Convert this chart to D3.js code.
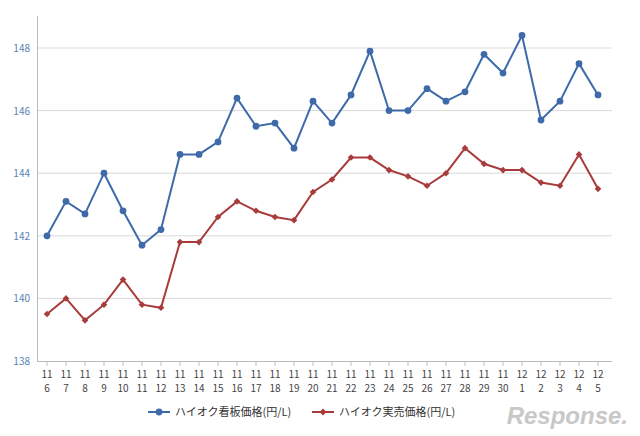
<!DOCTYPE html>
<html><head><meta charset="utf-8">
<script src="https://cdn.jsdelivr.net/npm/d3@7"></script>
<style>body{margin:0;background:#fff;font-family:"Noto Sans CJK JP","Noto Sans",sans-serif}</style>
</head><body>
<svg id="chart" width="640" height="436"></svg>
<script>
var months = ["11","11","11","11","11","11","11","11","11","11","11","11","11","11","11","11","11","11","11","11","11","11","11","11","11","12","12","12","12","12"];
var days = ["6","7","8","9","10","11","12","13","14","15","16","17","18","19","20","21","22","23","24","25","26","27","28","29","30","1","2","3","4","5"];
var signPrice = [142.0,143.1,142.7,144.0,142.8,141.7,142.2,144.6,144.6,145.0,146.4,145.5,145.6,144.8,146.3,145.6,146.5,147.9,146.0,146.0,146.7,146.3,146.6,147.8,147.2,148.4,145.7,146.3,147.5,146.5];
var realPrice = [139.5,140.0,139.3,139.8,140.6,139.8,139.7,141.8,141.8,142.6,143.1,142.8,142.6,142.5,143.4,143.8,144.5,144.5,144.1,143.9,143.6,144.0,144.8,144.3,144.1,144.1,143.7,143.6,144.6,143.5];
var yTicks = [138,140,142,144,146,148];

var svg = d3.select("#chart");
var idx = d3.range(days.length);
var x = d3.scalePoint().domain(idx).range([47, 598]);
var y = d3.scaleLinear().domain([138, 148]).range([361, 48]);

// gridlines
svg.append("g").selectAll("line").data(yTicks.slice(1)).enter().append("line")
  .attr("x1", 37).attr("x2", 612)
  .attr("y1", function(d) { return y(d); }).attr("y2", function(d) { return y(d); })
  .attr("stroke", "#d9d9d9");

// axes lines
svg.append("line").attr("x1", 37.5).attr("x2", 37.5).attr("y1", 16).attr("y2", 361).attr("stroke", "#bbb");
svg.append("line").attr("x1", 37).attr("x2", 612).attr("y1", 361.5).attr("y2", 361.5).attr("stroke", "#bbb");

svg.append("g").selectAll("text").data(yTicks).enter().append("text")
  .attr("x", 30).attr("y", function(d) { return y(d) + 4; })
  .attr("text-anchor", "end").attr("font-size", 10).attr("fill", "#5a7fb5")
  .text(function(d) { return d; });

var xl = svg.append("g").selectAll("g").data(idx).enter().append("g")
  .attr("transform", function(i) { return "translate(" + x(i) + ",0)"; });
xl.append("line").attr("y1", 361).attr("y2", 366).attr("stroke", "#bbb");
xl.append("text").attr("y", 378).attr("text-anchor", "middle").attr("font-size", 10).attr("fill", "#444")
  .text(function(i) { return months[i]; });
xl.append("text").attr("y", 392).attr("text-anchor", "middle").attr("font-size", 10).attr("fill", "#444")
  .text(function(i) { return days[i]; });

var line = d3.line().x(function(d, i) { return x(i); }).y(function(d) { return y(d); });

function series(data, color, shape) {
  svg.append("path").datum(data).attr("d", line).attr("fill", "none")
    .attr("stroke", color).attr("stroke-width", 2);
  svg.append("g").selectAll("path").data(data).enter().append("path")
    .attr("transform", function(d, i) {
      return "translate(" + x(i) + "," + y(d) + ")" + (shape === d3.symbolSquare ? " rotate(45)" : "");
    })
    .attr("d", d3.symbol().type(shape).size(shape === d3.symbolCircle ? 36 : 22))
    .attr("fill", color);
}
series(signPrice, "#3e6aaa", d3.symbolCircle);
series(realPrice, "#a83c3b", d3.symbolSquare);

// legend
var legend = [["ハイオク看板価格(円/L)", "#3e6aaa", d3.symbolCircle, 148], ["ハイオク実売価格(円/L)", "#a83c3b", d3.symbolSquare, 312]];
var lg = svg.append("g").selectAll("g").data(legend).enter().append("g")
  .attr("transform", function(d) { return "translate(" + d[3] + ",412)"; });
lg.append("line").attr("x1", 0).attr("x2", 22).attr("stroke", function(d) { return d[1]; }).attr("stroke-width", 2);
lg.append("path").attr("transform", function(d) { return "translate(11,0)" + (d[2] === d3.symbolSquare ? " rotate(45)" : ""); })
  .attr("d", function(d) { return d3.symbol().type(d[2]).size(d[2] === d3.symbolCircle ? 36 : 24)(); })
  .attr("fill", function(d) { return d[1]; });
lg.append("text").attr("x", 27).attr("y", 4).attr("font-size", 11).attr("fill", "#333")
  .text(function(d) { return d[0]; });

// watermark
svg.append("text").attr("x", 628).attr("y", 424).attr("text-anchor", "end")
  .attr("font-size", 24).attr("font-style", "italic").attr("font-weight", "bold")
  .attr("fill", "#c8c8c8").attr("font-family", "Liberation Sans").text("Response.");
</script>
</body></html>
